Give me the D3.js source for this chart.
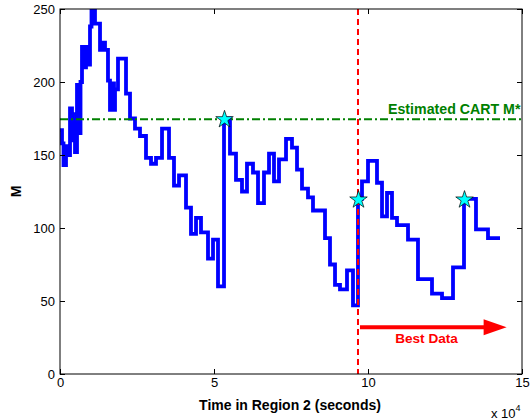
<!DOCTYPE html>
<html><head><meta charset="utf-8">
<script src="https://cdn.jsdelivr.net/npm/d3@7"></script>
<style>body{margin:0;background:#fff}svg{display:block}</style>
</head><body><svg id="c" width="531" height="420"></svg>
<script>
// Time in Region 2 (seconds)
const times = [0,650,1140,1950,2600,3250,3900,4380,4870,5520,6170,6660,7140,7790,8440,9090,9740,10230,11360,12990,13960,14610,15580,16230,16880,17530,17860,18830,21430,22730,24350,25970,27920,29550,31170,33120,35390,37010,38640,40910,42530,44160,45780,48050,49680,51300,53250,55190,57140,59090,60710,62660,64290,66230,67860,69480,71100,73380,75320,76950,78570,80520,82140,86040,87660,89290,90910,93180,95130,96750,98050,100000,102920,104550,106170,107790,109420,112990,116230,120780,124030,127600,131170,135060,138960,142860];
// M values (stairs)
const mValues = [167,158,143,156,150,182,160,178,152,198,165,200,224,210,224,212,238,252,240,222,227,222,201,181,199,181,195,216,192,175,168,163,148,144,148,168,148,129,136,114,96,107,97,79,92,60,175,151,133,125,144,138,117,138,151,132,147,161,155,140,127,121,112,93,75,61,58,71,47,120,132,146,131,108,124,107,102,92,65,55,52,73,120,99,93,93];
const starTimes = [53250, 96750, 131170];
const starValues = [175, 120, 120];
const cartEstimate = 174.5;
const bestDataStart = 96750;
const bestDataEnd = 145000;
const arrowLevel = 32;
const xTicks = [0, 50000, 100000, 150000];
const xTickLabels = ["0", "5", "10", "15"];
const yTicks = [0, 50, 100, 150, 200, 250];

const svg = d3.select("#c");
const L = 60, R = 522, T = 9, B = 374;
const font = "'Liberation Sans', Arial, Helvetica, sans-serif";
const x = d3.scaleLinear().domain([0, 150000]).range([L, R]);
const y = d3.scaleLinear().domain([0, 250]).range([B, T]);

svg.append("defs").append("clipPath").attr("id", "clip")
  .append("rect").attr("x", L).attr("y", T).attr("width", R - L).attr("height", B - T);

const g = svg.append("g").attr("clip-path", "url(#clip)");
const pts = times.map((t, i) => [t, mValues[i]]);
g.append("path").datum(pts)
  .attr("d", d3.line().x(d => x(d[0])).y(d => y(d[1])).curve(d3.curveStepAfter))
  .attr("fill", "none").attr("stroke", "#0000ff").attr("stroke-width", 3.8)
  .attr("stroke-linejoin", "miter");

// CART estimate line
g.append("line").attr("x1", x(0)).attr("x2", x(150000))
  .attr("y1", y(cartEstimate)).attr("y2", y(cartEstimate))
  .attr("stroke", "#008000").attr("stroke-width", 2)
  .attr("stroke-dasharray", "8,3,2,3");

// Best data boundary
g.append("line").attr("x1", x(bestDataStart)).attr("x2", x(bestDataStart))
  .attr("y1", y(250)).attr("y2", y(0))
  .attr("stroke", "#ff0000").attr("stroke-width", 2)
  .attr("stroke-dasharray", "6,4");

// stars
svg.selectAll("path.star").data(starTimes.map((t, i) => [t, starValues[i]]))
  .enter().append("path").attr("class", "star")
  .attr("d", d3.symbol().type(d3.symbolStar).size(95))
  .attr("transform", d => `translate(${x(d[0]) + 0.5},${y(d[1]) + 1})`)
  .attr("fill", "#00ffff").attr("stroke", "#000").attr("stroke-width", 0.7);

// Arrow
const ay = y(arrowLevel);
const ax0 = x(bestDataStart) + 2, ax1 = x(bestDataEnd);
svg.append("line").attr("x1", ax0).attr("x2", ax1 - 20).attr("y1", ay).attr("y2", ay)
  .attr("stroke", "#ff0000").attr("stroke-width", 4);
svg.append("path")
  .attr("d", `M${ax1},${ay} L${ax1 - 23},${ay - 8} L${ax1 - 23},${ay + 8} Z`)
  .attr("fill", "#ff0000");
svg.append("text").attr("x", x(119000)).attr("y", y(21))
  .attr("text-anchor", "middle").attr("font-family", font).attr("font-weight", "bold")
  .attr("font-size", 13.6).attr("fill", "#ff0000").text("Best Data");

svg.append("text").attr("x", x(149500)).attr("y", y(cartEstimate) - 5)
  .attr("text-anchor", "end").attr("font-family", font).attr("font-weight", "bold")
  .attr("font-size", 14.2).attr("fill", "#008000").text("Estimated CART M*");

// Axes box
const axes = svg.append("g");
axes.append("rect").attr("x", L).attr("y", T).attr("width", R - L).attr("height", B - T)
  .attr("fill", "none").attr("stroke", "#000").attr("stroke-width", 1);

const axB = axes.append("g").attr("transform", `translate(0,${B})`)
  .call(d3.axisBottom(x).tickValues(xTicks).tickFormat((d, i) => xTickLabels[i]).tickSizeInner(-5).tickSizeOuter(0).tickPadding(4));
const axT = axes.append("g").attr("transform", `translate(0,${T})`)
  .call(d3.axisTop(x).tickValues(xTicks).tickFormat("").tickSizeInner(-5).tickSizeOuter(0));
const axLft = axes.append("g").attr("transform", `translate(${L},0)`)
  .call(d3.axisLeft(y).tickValues(yTicks).tickSizeInner(-5).tickSizeOuter(0).tickPadding(5));
const axRgt = axes.append("g").attr("transform", `translate(${R},0)`)
  .call(d3.axisRight(y).tickValues(yTicks).tickFormat("").tickSizeInner(-5).tickSizeOuter(0));
[axB, axT, axLft, axRgt].forEach(a => {
  a.select(".domain").remove();
  a.selectAll("line").attr("stroke", "#000");
  a.selectAll("text").attr("font-family", font).attr("font-size", 13).attr("fill", "#000");
});
axB.selectAll("text").attr("dy", "0.71em");

// Titles
svg.append("text").attr("x", 290).attr("y", 410)
  .attr("text-anchor", "middle").attr("font-family", font).attr("font-weight", "bold")
  .attr("font-size", 14).text("Time in Region 2 (seconds)");
svg.append("text").attr("transform", `translate(21,${(T + B) / 2}) rotate(-90)`)
  .attr("text-anchor", "middle").attr("font-family", font).attr("font-weight", "bold")
  .attr("font-size", 14).text("M");
const ex = svg.append("text").attr("x", 491).attr("y", 418)
  .attr("font-family", font).attr("font-size", 13);
ex.append("tspan").text("x 10");
ex.append("tspan").attr("font-size", 9).attr("dy", -7).text("4");
</script></body></html>
